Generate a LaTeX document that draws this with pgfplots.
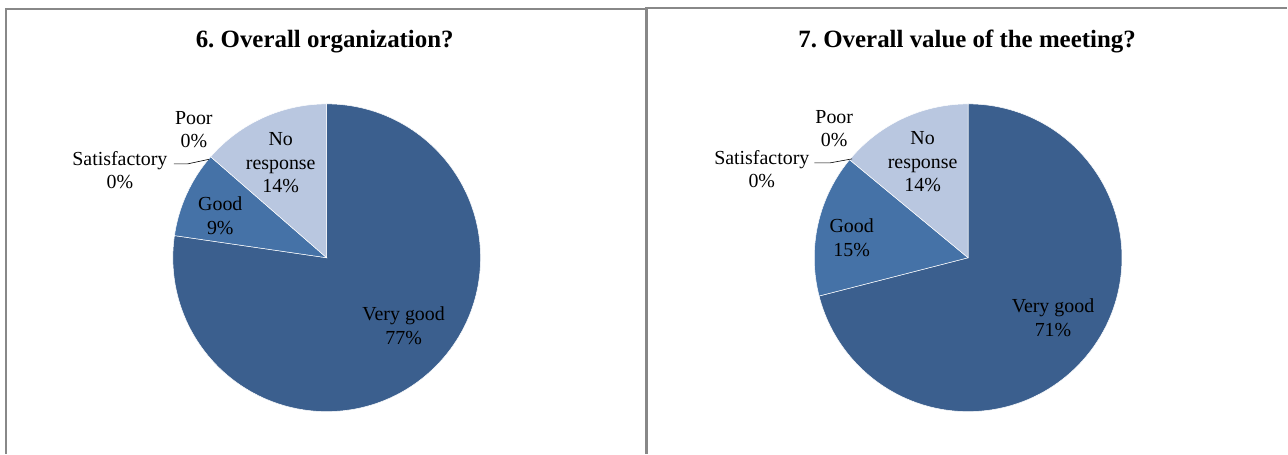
\documentclass[border=0pt]{standalone}
\usepackage{fontspec}
\setmainfont{Liberation Serif}
\usepackage{pgfplots}
\usepackage{pgfplotstable}
\pgfplotsset{compat=1.18}
\frenchspacing
\definecolor{vgood}{RGB}{59,95,142}
\definecolor{good}{RGB}{69,114,167}
\definecolor{noresp}{RGB}{185,199,224}
\definecolor{framec}{RGB}{136,136,136}

% 6. Overall organization?
\pgfplotstableread{
name value col
VeryGood 77.3 vgood
Good 9.1 good
Satisfactory 0 good
Poor 0 noresp
NoResponse 13.6 noresp
}\pieA
% 7. Overall value of the meeting?
\pgfplotstableread{
name value col
VeryGood 71 vgood
Good 15 good
Satisfactory 0 good
Poor 0 noresp
NoResponse 14 noresp
}\pieB

\newcommand\drawpie[4]{% #1 table, #2 cx, #3 cy, #4 radius (bp)
  \def\curang{90}%
  \pgfplotsforeachungrouped \i in {0,...,4}{%
    \pgfplotstablegetelem{\i}{value}\of{#1}\let\val\pgfplotsretval
    \pgfplotstablegetelem{\i}{col}\of{#1}\let\colname\pgfplotsretval
    \pgfmathsetmacro\endang{\curang-3.6*\val}%
    \ifdim\val pt>0pt
      \edef\cmd{\noexpand\fill[\colname,draw=white,line width=0.5bp] (axis cs:#2,#3) -- ++(\curang:#4bp) arc[start angle=\curang,end angle=\endang,radius=#4bp] -- cycle;}%
      \cmd
    \fi
    \let\curang\endang
  }%
}

\begin{document}
\begin{tikzpicture}
\begin{axis}[
  scale only axis, width=1288bp, height=454bp,
  xmin=0, xmax=1288, ymin=0, ymax=454,
  hide axis, clip=false,
]
\path (axis cs:0,0) rectangle (axis cs:1288,454);
% frames
\draw[framec, line width=2.4bp] (axis cs:5.8,0) -- (axis cs:5.8,445.2) -- (axis cs:647,445.2);
\draw[framec, line width=2.4bp] (axis cs:647,0) -- (axis cs:647,446.2) -- (axis cs:1288,446.2);

% pies
\drawpie{\pieA}{327}{196}{154}
\drawpie{\pieB}{969}{196}{154}

% titles
\node[anchor=base, font=\fontsize{25}{30}\selectfont\bfseries] at (axis cs:325,406) {6.\ Overall organization?};
\node[anchor=base, font=\fontsize{25}{30}\selectfont\bfseries] at (axis cs:968,406) {7.\ Overall value of the meeting?};

% labels pie 1
\begin{scope}[every node/.style={align=center, inner sep=0pt, font=\fontsize{20}{23.5}\selectfont}]
\node at (axis cs:404,128) {Very good\\77\%};
\node at (axis cs:281,291) {No\\response\\14\%};
\node at (axis cs:220.5,238) {Good\\9\%};
\node at (axis cs:120,284) {Satisfactory\\0\%};
\node at (axis cs:194,324) {Poor\\0\%};
\draw[black, line width=0.6bp] (axis cs:174,290) -- (axis cs:188,290) -- (axis cs:209,294.5);
% labels pie 2
\node at (axis cs:1054,136) {Very good\\71\%};
\node at (axis cs:923.5,292) {No\\response\\14\%};
\node at (axis cs:852.5,216) {Good\\15\%};
\node at (axis cs:762.5,285) {Satisfactory\\0\%};
\node at (axis cs:835,325) {Poor\\0\%};
\draw[black, line width=0.6bp] (axis cs:815,291) -- (axis cs:831,291) -- (axis cs:853,295);
\end{scope}
\end{axis}
\end{tikzpicture}
\end{document}
